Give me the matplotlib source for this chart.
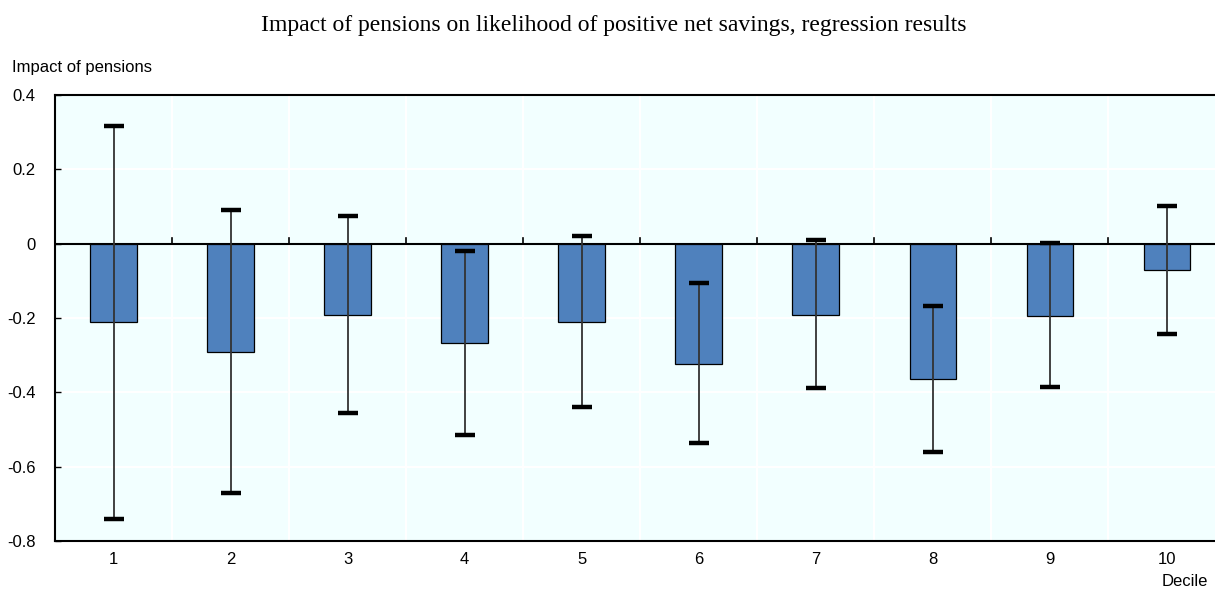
import numpy as np
import matplotlib.pyplot as plt

# Deciles and regression estimates with confidence bounds
deciles = ['1', '2', '3', '4', '5', '6', '7', '8', '9', '10']
impact = [-0.211, -0.291, -0.192, -0.267, -0.211, -0.324, -0.192, -0.364, -0.195, -0.071]
upper = [0.317, 0.091, 0.075, -0.020, 0.021, -0.106, 0.010, -0.168, 0.002, 0.101]
lower = [-0.741, -0.670, -0.455, -0.515, -0.439, -0.537, -0.388, -0.560, -0.386, -0.243]

x = np.arange(1, len(deciles) + 1)
impact = np.array(impact)
err = [impact - np.array(lower), np.array(upper) - impact]

fig = plt.figure(figsize=(12.15, 5.89), dpi=100)
ax = fig.add_axes([0.0453, 0.0815, 0.9547, 0.7572])
ax.set_facecolor('#F2FFFF')

ax.bar(x, impact, width=0.40, color='#4F81BD', edgecolor='black', linewidth=0.9, zorder=3)
ax.errorbar(x, impact, yerr=err, fmt='none', ecolor='#333333', elinewidth=1.3,
            capsize=0, zorder=4)
# thick caps
ax.scatter(x, upper, marker='_', s=190, linewidths=3.2, color='black', zorder=5)
ax.scatter(x, lower, marker='_', s=190, linewidths=3.2, color='black', zorder=5)

ax.set_xlim(0.5, 10.41)
ax.set_ylim(-0.8, 0.4)
ax.set_yticks([-0.8, -0.6, -0.4, -0.2, 0, 0.2, 0.4])
ax.set_yticklabels(['-0.8', '-0.6', '-0.4', '-0.2', '0', '0.2', '0.4'])
ax.set_xticks(x)
ax.set_xticklabels(deciles)

# gridlines: horizontal at y ticks, vertical at category boundaries
for yv in [-0.6, -0.4, -0.2, 0.2]:
    ax.axhline(yv, color='white', linewidth=1.5, zorder=1)
for xb in np.arange(1.5, 10.5, 1):
    ax.axvline(xb, color='white', linewidth=1.5, zorder=1)
    ax.plot([xb, xb], [0, 0.015], color='black', linewidth=1.2, zorder=2)
ax.axhline(0, color='black', linewidth=1.5, zorder=2)

for s in ['left', 'bottom', 'top']:
    ax.spines[s].set_linewidth(1.5)
    ax.spines[s].set_color('black')
ax.spines['right'].set_visible(False)

ax.tick_params(axis='y', direction='in', length=4, width=1, labelsize=12,
               pad=14, labelfontfamily='Liberation Sans')
ax.tick_params(axis='x', length=0, labelsize=12, pad=8, labelfontfamily='Liberation Sans')

fig.text(0.505, 0.957, 'Impact of pensions on likelihood of positive net savings, regression results',
         ha='center', va='center', fontsize=17, family='Liberation Serif')
fig.text(0.010, 0.886, 'Impact of pensions', ha='left', va='center', fontsize=12,
         family='Liberation Sans')
fig.text(0.994, 0.013, 'Decile', ha='right', va='center', fontsize=12, family='Liberation Sans')

fig.savefig('out.png', dpi=100)
